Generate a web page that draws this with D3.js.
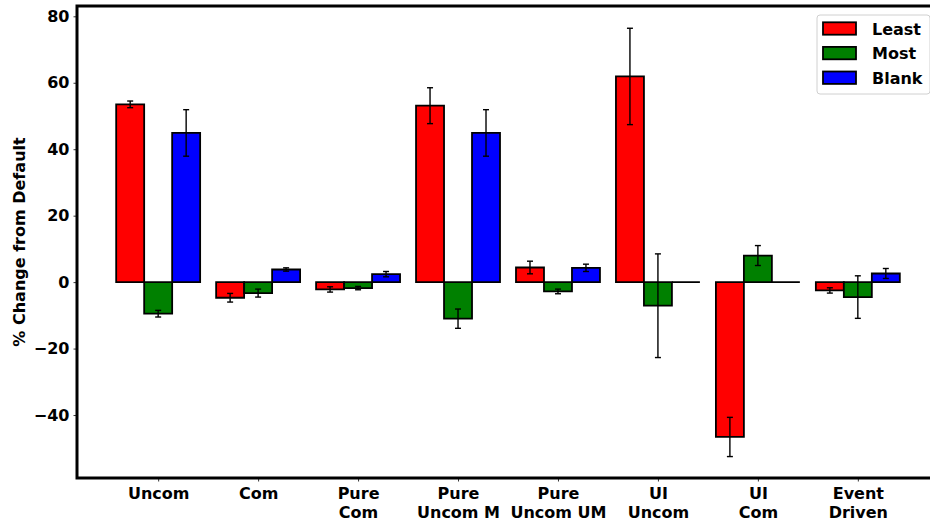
<!DOCTYPE html>
<html>
<head>
<meta charset="utf-8">
<script src="https://cdn.jsdelivr.net/npm/d3@7"></script>
<style>
  html, body { margin: 0; padding: 0; background: #fff; }
  svg { display: block; font-family: "DejaVu Sans", sans-serif; font-weight: bold; }
</style>
</head>
<body>
<svg id="chart" width="930" height="521"></svg>
<script>
// ---- data ----
const categories = ["Uncom", "Com", "Pure\nCom", "Pure\nUncom M", "Pure\nUncom UM", "UI\nUncom", "UI\nCom", "Event\nDriven"];
const seriesNames = ["Least", "Most", "Blank"];
const seriesColors = ["#ff0000", "#008000", "#0000ff"];
const leastValues = [53.5, -4.7, -2.2, 53.1, 4.4, 61.9, -46.6, -2.5];
const leastErrors = [1.0, 1.3, 0.8, 5.4, 1.9, 14.5, 5.9, 0.8];
const mostValues  = [-9.5, -3.3, -1.8, -11.0, -2.8, -7.1, 8.0, -4.5];
const mostErrors  = [1.0, 1.2, 0.5, 2.9, 0.7, 15.6, 3.0, 6.4];
const blankValues = [44.9, 3.8, 2.4, 44.9, 4.3, 0, 0, 2.6];
const blankErrors = [7.0, 0.5, 0.8, 7.0, 1.1, 0, 0, 1.5];
const yTicks = [-40, -20, 0, 20, 40, 60, 80];
const yLabel = "% Change from Default";

const values = [leastValues, mostValues, blankValues];
const errors = [leastErrors, mostErrors, blankErrors];
const barWidth = 0.28;

// ---- layout ----
const svg = d3.select("#chart");
const plot = { left: 77, right: 939, top: 6, bottom: 478 };

const x = d3.scaleLinear().domain([-0.812, categories.length - 1 + 0.812]).range([plot.left, plot.right]);
const y = d3.scaleLinear().domain([-58.95, 83.1]).range([plot.bottom, plot.top]);

// bars
const bars = [];
values.forEach((vals, s) => {
  vals.forEach((v, i) => {
    const c = i + (s - 1) * barWidth;
    bars.push({ s, i, v, e: errors[s][i], x0: c - barWidth / 2, x1: c + barWidth / 2, c });
  });
});

svg.append("g").selectAll("path").data(bars).join("path")
  .attr("d", d => {
    const X0 = x(d.x0), X1 = x(d.x1), Y0 = y(0), Y1 = y(d.v);
    return `M${X0},${Y0}H${X1}V${Y1}H${X0}Z`;
  })
  .attr("fill", d => seriesColors[d.s])
  .attr("stroke", "#000")
  .attr("stroke-width", 1.8)
  .attr("stroke-linejoin", "miter");

// error bars
const eb = svg.append("g").attr("stroke", "#000").attr("stroke-width", 1.4);
bars.filter(d => d.e > 0).forEach(d => {
  const cx = x(d.c);
  eb.append("line").attr("x1", cx).attr("x2", cx).attr("y1", y(d.v - d.e)).attr("y2", y(d.v + d.e));
  [d.v - d.e, d.v + d.e].forEach(t => {
    eb.append("line").attr("x1", cx - 3).attr("x2", cx + 3).attr("y1", y(t)).attr("y2", y(t));
  });
});

// axes
const yAxis = d3.axisLeft(y).tickValues(yTicks).tickSize(3.5).tickPadding(4)
  .tickFormat(d => d < 0 ? "\u2212" + Math.abs(d) : String(d));
const gy = svg.append("g").attr("transform", `translate(${plot.left},0)`).call(yAxis);
gy.select(".domain").remove();
gy.selectAll("text").attr("font-size", 16).attr("font-family", "DejaVu Sans").attr("font-weight", "bold").attr("fill", "#000");
gy.selectAll("line").attr("stroke", "#000").attr("stroke-width", 0.8);

const xAxis = d3.axisBottom(x).tickValues(d3.range(categories.length)).tickSize(3.5).tickFormat(() => "");
const gx = svg.append("g").attr("transform", `translate(0,${plot.bottom})`).call(xAxis);
gx.select(".domain").remove();
gx.selectAll("line").attr("stroke", "#000").attr("stroke-width", 0.8);
gx.selectAll(".tick").each(function(d) {
  const lines = categories[d].split("\n");
  const t = d3.select(this).append("text")
    .attr("text-anchor", "middle").attr("font-size", 16).attr("fill", "#000")
    .attr("font-family", "DejaVu Sans").attr("font-weight", "bold");
  lines.forEach((ln, k) => {
    t.append("tspan").attr("x", 0).attr("y", 21 + k * 19).text(ln);
  });
});

// spines
svg.append("rect")
  .attr("x", plot.left).attr("y", plot.top)
  .attr("width", plot.right - plot.left).attr("height", plot.bottom - plot.top)
  .attr("fill", "none").attr("stroke", "#000").attr("stroke-width", 3);

// y label
svg.append("text")
  .attr("transform", `translate(25,${(plot.top + plot.bottom) / 2}) rotate(-90)`)
  .attr("text-anchor", "middle").attr("font-size", 16).attr("fill", "#000")
  .text(yLabel);

// legend
const lg = svg.append("g");
lg.append("rect").attr("x", 817).attr("y", 15).attr("width", 113).attr("height", 79)
  .attr("rx", 3).attr("fill", "#fff").attr("fill-opacity", 0.8)
  .attr("stroke", "#d0d0d0").attr("stroke-width", 1);
seriesNames.forEach((n, k) => {
  const cy = 28.5 + k * 24.6;
  lg.append("rect").attr("x", 823).attr("y", cy - 6.2).attr("width", 33).attr("height", 12.4)
    .attr("fill", seriesColors[k]).attr("stroke", "#000").attr("stroke-width", 1.8);
  lg.append("text").attr("x", 872).attr("y", cy + 6).attr("font-size", 16).attr("fill", "#000").text(n);
});
</script>
</body>
</html>
